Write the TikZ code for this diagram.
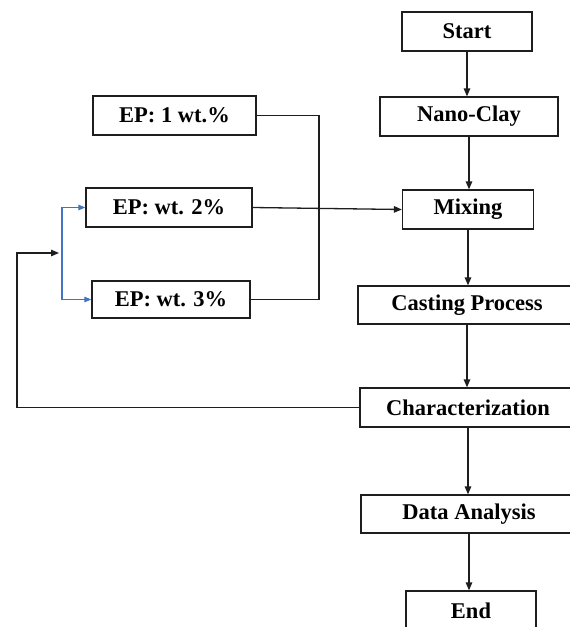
\documentclass[tikz,border=0pt]{standalone}
\usepackage{fontspec}
\setmainfont{Liberation Serif}
\usetikzlibrary{arrows.meta}
\definecolor{bluec}{RGB}{68,114,196}
\definecolor{linec}{RGB}{30,30,30}
\tikzset{
  box/.style={draw=linec, line width=1.3pt, fill=white, minimum height=39pt, inner sep=0pt,
    font=\fontsize{22.5}{27}\selectfont\bfseries},
  conn/.style={line width=1.3pt, draw=linec},
  arr/.style={conn, -{Triangle[length=8pt,width=6.5pt]}},
  barr/.style={line width=1.1pt, draw=bluec, -{Triangle[length=7pt,width=5.5pt]}}
}
\begin{document}
\begin{tikzpicture}[x=1pt,y=-1pt]
\useasboundingbox (0,0) rectangle (570,627);
\clip (0,0) rectangle (570,627);
\fill[white] (0,0) rectangle (570,627);
% main column
\node[box, minimum width=130pt] (start) at (467,31.5) {Start};
\node[box, minimum width=178pt] (nano) at (469,116.5) {Nano-Clay};
\node[box, minimum width=131pt] (mix) at (468,209.5) {Mixing};
\node[box, minimum width=218pt, minimum height=38pt] (cast) at (467,305) {Casting Process};
\node[box, minimum width=216pt] (char) at (468,407.5) {Characterization};
\node[box, minimum width=216pt, minimum height=38pt] (data) at (469,514) {Data Analysis};
\node[box, minimum width=130pt] (end) at (471,610.5) {End};
% EP boxes
\node[box, minimum width=163pt] (ep1) at (174.5,115.5) {EP: 1 wt.\%};
\node[box, minimum width=166pt] (ep2) at (169,207.5) {EP: wt. 2\%};
\node[box, minimum width=158pt, minimum height=37pt] (ep3) at (171,299.5) {EP: wt. 3\%};
% coordinates
\coordinate (brk) at (319,208);
\coordinate (loopcorner) at (17,253);
\coordinate (loopend) at (59,253);
\coordinate (bj) at (62,253);
% main flow
\draw[arr] (start.south) -- (start.south |- nano.north);
\draw[arr] (nano.south) -- (nano.south |- mix.north);
\draw[arr] (mix.south) -- (mix.south |- cast.north);
\draw[arr] (cast.south) -- (cast.south |- char.north);
\draw[arr] (char.south) -- (char.south |- data.north);
\draw[arr] (data.south) -- (data.south |- end.north);
% EP connections
\draw[conn] (ep1.east) -| (brk) |- (ep3.east);
\draw[arr] (ep2.east) -- (mix.west);
% loop back
\draw[arr] (char.west) -| (loopcorner) -- (loopend);
% blue branches
\draw[barr] (bj) |- (ep2.west);
\draw[barr] (bj) |- (ep3.west);
\end{tikzpicture}
\end{document}
